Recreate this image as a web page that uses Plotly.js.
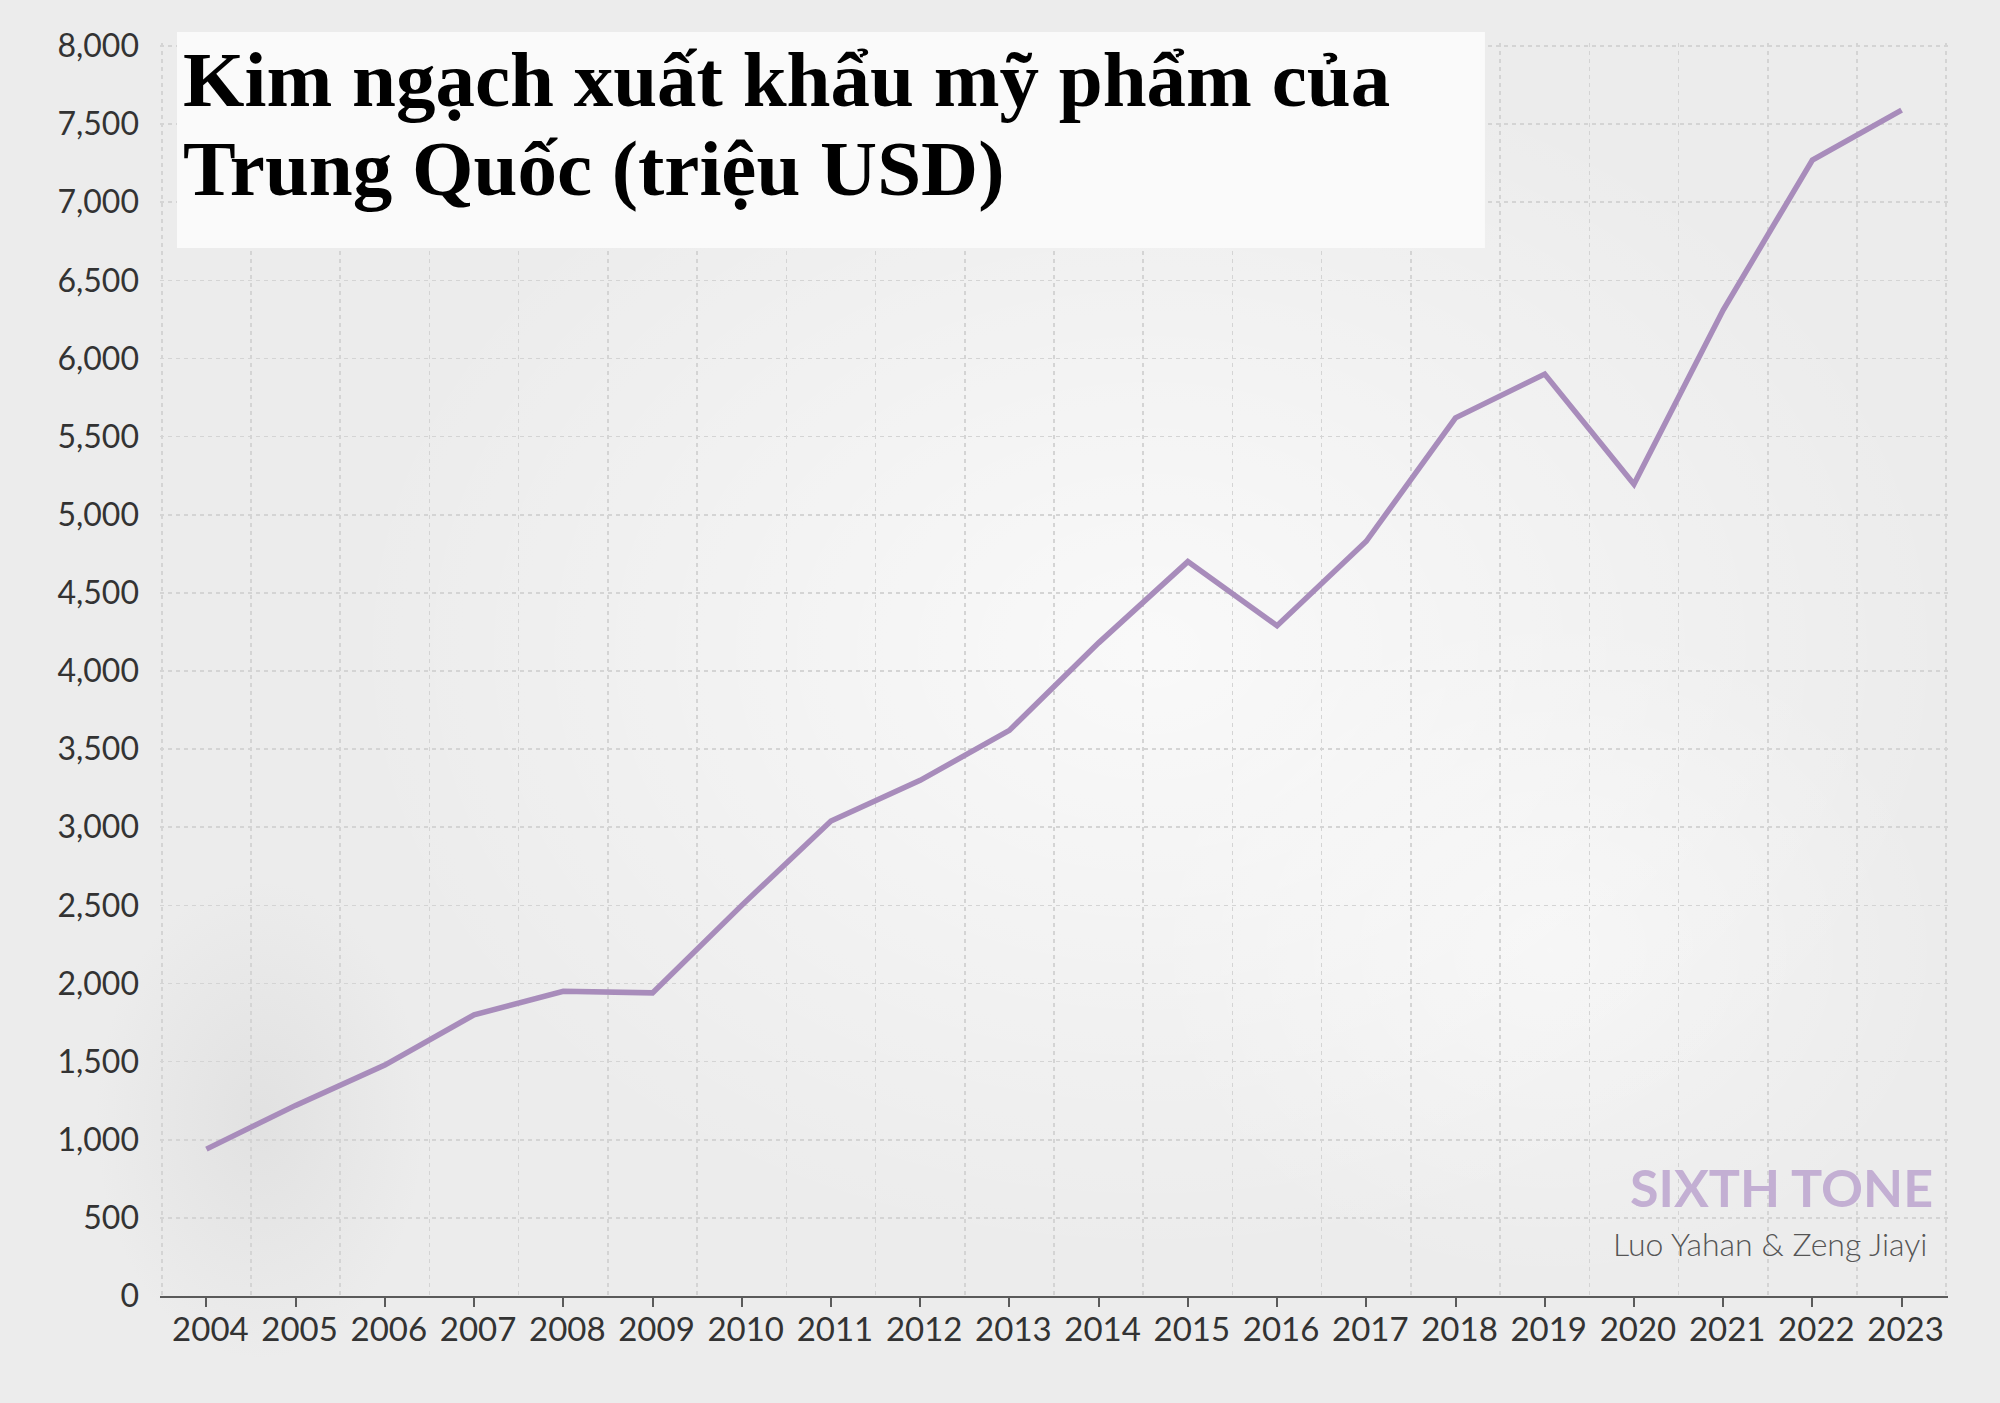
<!DOCTYPE html>
<html>
<head>
<meta charset="utf-8">
<script src="https://cdn.plot.ly/plotly-3.0.1.min.js"></script>
<style>
  html, body { margin: 0; padding: 0; }
  body {
    width: 2000px; height: 1403px; overflow: hidden;
    background-color: #ececec;
    background-image:
      radial-gradient(ellipse 220px 320px at 260px 1120px, rgba(170,170,170,0.16), rgba(170,170,170,0) 75%),
      radial-gradient(ellipse 950px 720px at 1150px 650px, rgba(255,255,255,0.7), rgba(255,255,255,0) 85%),
      radial-gradient(ellipse 500px 420px at 1550px 950px, rgba(255,255,255,0.45), rgba(255,255,255,0) 80%);
  }
  #chart { width: 2000px; height: 1403px; }
</style>
</head>
<body>
<div id="chart"></div>
<script>
// ---- data ----
const years = [2004, 2005, 2006, 2007, 2008, 2009, 2010, 2011, 2012, 2013,
               2014, 2015, 2016, 2017, 2018, 2019, 2020, 2021, 2022, 2023];
const exportValues = [940, 1220, 1478, 1800, 1950, 1940, 2500, 3040, 3300, 3620,
                      4180, 4700, 4290, 4830, 5620, 5900, 5195, 6310, 7270, 7590];
const yTickValues = [0, 500, 1000, 1500, 2000, 2500, 3000, 3500, 4000,
                     4500, 5000, 5500, 6000, 6500, 7000, 7500, 8000];
const yTickLabels = ["0", "500", "1,000", "1,500", "2,000", "2,500", "3,000", "3,500", "4,000",
                     "4,500", "5,000", "5,500", "6,000", "6,500", "7,000", "7,500", "8,000"];
const titleLines = ["Kim ngạch xuất khẩu mỹ phẩm của", "Trung Quốc (triệu USD)"];
const brandText = "SIXTH TONE";
const creditText = "Luo Yahan &amp; Zeng Jiayi";

// ---- chart ----
const trace = {
  type: "scatter",
  mode: "lines",
  x: years,
  y: exportValues,
  line: { color: "#a88cbb", width: 5.5 },
  hoverinfo: "skip"
};

const gridColor = "#d4d4d4";

const layout = {
  width: 2000,
  height: 1403,
  paper_bgcolor: "rgba(0,0,0,0)",
  plot_bgcolor: "rgba(0,0,0,0)",
  margin: { l: 160, r: 52, t: 43, b: 107 },
  showlegend: false,
  xaxis: {
    type: "linear",
    range: [2003.48, 2023.52],
    tickmode: "array",
    tickvals: years,
    ticktext: years.map(String),
    ticks: "outside",
    ticklen: 9,
    tickwidth: 2,
    tickcolor: "#5a5a5a",
    showline: true,
    linecolor: "#5a5a5a",
    linewidth: 2,
    showgrid: false,
    zeroline: false,
    ticklabelstandoff: -6,
    ticklabelshift: 4,
    tickfont: { family: "Lato", size: 33, color: "#333333" },
    minor: {
      tickmode: "linear",
      tick0: 2003.5,
      dtick: 1,
      ticks: "",
      showgrid: true,
      gridcolor: gridColor,
      gridwidth: 1.6,
      griddash: "4px,4px"
    }
  },
  yaxis: {
    range: [0, 8019],
    tickmode: "array",
    tickvals: yTickValues,
    ticktext: yTickLabels,
    ticks: "",
    showline: false,
    zeroline: false,
    showgrid: true,
    gridcolor: gridColor,
    gridwidth: 1.6,
    griddash: "4px,4px",
    ticklabelstandoff: 20,
    tickfont: { family: "Lato", size: 32, color: "#333333" }
  },
  shapes: [{
    type: "rect",
    xref: "paper", yref: "paper",
    x0: 0.0095, x1: 0.741, y0: 0.8364, y1: 1.0088,
    fillcolor: "#fafafa",
    line: { width: 0 },
    layer: "above"
  }],
  annotations: [
    {
      text: "<b>" + titleLines[0] + "</b>",
      xref: "paper", yref: "paper",
      x: 0.0115, y: 1.0072,
      xanchor: "left", yanchor: "top",
      showarrow: false,
      font: { family: "Liberation Serif", size: 79, color: "#000000" }
    },
    {
      text: "<b>" + titleLines[1] + "</b>",
      xref: "paper", yref: "paper",
      x: 0.0115, y: 0.9362,
      xanchor: "left", yanchor: "top",
      showarrow: false,
      font: { family: "Liberation Serif", size: 79, color: "#000000" }
    },
    {
      text: "<b>" + brandText + "</b>",
      xref: "paper", yref: "paper",
      x: 0.993, y: 0.1133,
      xanchor: "right", yanchor: "top",
      showarrow: false,
      font: { family: "Lato", size: 52, color: "#c3afd3", weight: 900 }
    },
    {
      text: creditText,
      xref: "paper", yref: "paper",
      x: 0.9893, y: 0.0587,
      xanchor: "right", yanchor: "top",
      showarrow: false,
      font: { family: "Lato", size: 32, color: "#555555", weight: 300 }
    }
  ]
};

Plotly.newPlot("chart", [trace], layout, { staticPlot: true, displayModeBar: false });
</script>
</body>
</html>
